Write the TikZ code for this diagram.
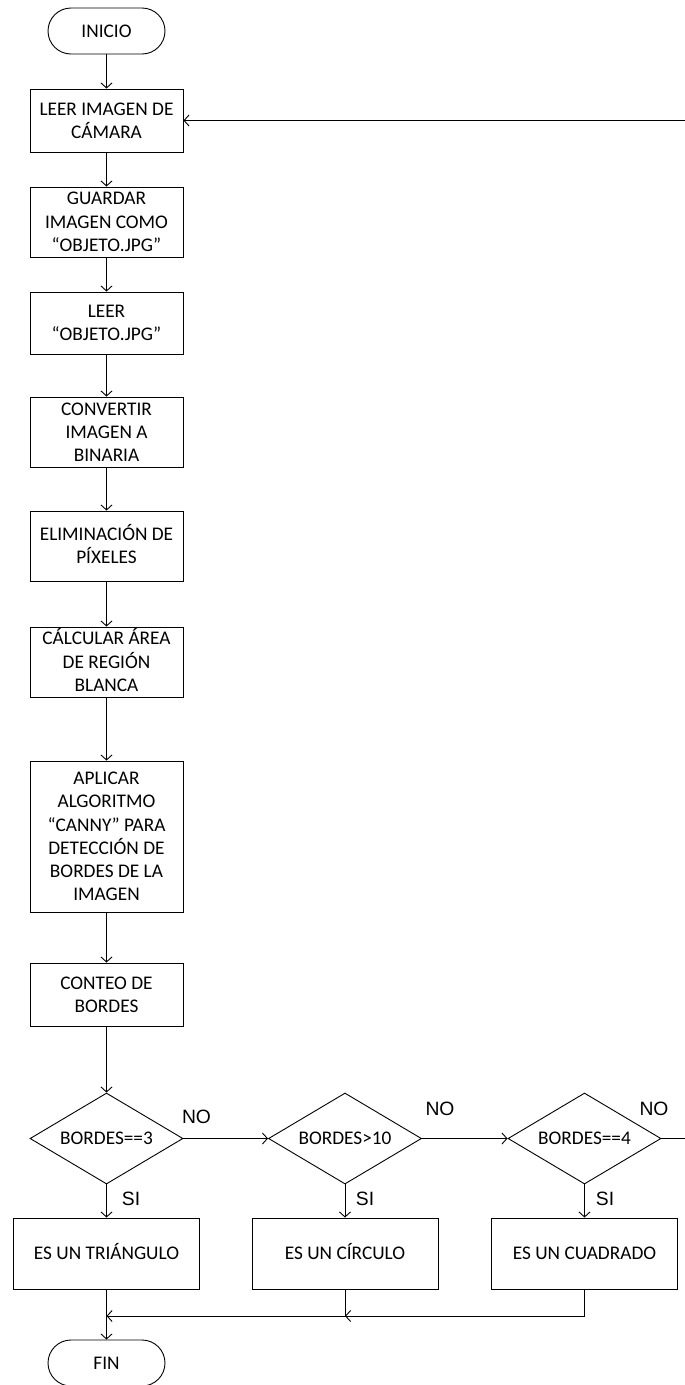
\documentclass[tikz,border=0pt]{standalone}
\usepackage{fontspec}
\setmainfont{Carlito}
\newfontfamily\arialfont{Liberation Sans}
\usetikzlibrary{arrows.meta,shapes.geometric}
\begin{document}
\begin{tikzpicture}[x=1pt,y=-1pt,
  every node/.style={font=\fontsize{19.3}{23.2}\selectfont},
  one/.style={text height=12.4pt},
  two/.style={text height=35.6pt},
  three/.style={text height=58.8pt},
  six/.style={text height=128.4pt},
  box/.style={draw, line width=0.9pt, minimum width=153pt, inner sep=0pt, align=center},
  rbox/.style={draw, line width=0.9pt, minimum width=186pt, minimum height=71pt, inner sep=0pt, align=center, one},
  term/.style={draw, line width=0.9pt, rounded corners=23pt, minimum width=117pt, minimum height=46pt, inner sep=0pt, one},
  decision/.style={draw, line width=0.9pt, diamond, aspect=1.68, minimum width=153pt, minimum height=91pt, inner sep=0pt, one},
  lbl/.style={font=\arialfont\fontsize{19.3}{22}\selectfont, inner sep=0pt},
  arr/.style={-{Straight Barb[length=5pt,width=11pt]}, line width=0.9pt}]
\useasboundingbox (0,0) rectangle (685,1385);

\node[term] (inicio) at (106.5,31) {INICIO};
\node[box, two, minimum height=63pt] (b1) at (106.5,120.5) {LEER IMAGEN DE\\CÁMARA};
\node[box, three, minimum height=70pt] (b2) at (106.5,222) {GUARDAR\\IMAGEN COMO\\“OBJETO.JPG”};
\node[box, two, minimum height=62pt] (b3) at (106.5,323) {LEER\\“OBJETO.JPG”};
\node[box, three, minimum height=70pt] (b4) at (106.5,432) {CONVERTIR\\IMAGEN A\\BINARIA};
\node[box, two, minimum height=70pt] (b5) at (106.5,546) {ELIMINACIÓN DE\\PÍXELES};
\node[box, three, minimum height=70pt] (b6) at (106.5,662) {CÁLCULAR ÁREA\\DE REGIÓN\\BLANCA};
\node[box, six, minimum height=151pt] (b7) at (106.5,836.5) {APLICAR\\ALGORITMO\\“CANNY” PARA\\DETECCIÓN DE\\BORDES DE LA\\IMAGEN};
\node[box, two, minimum height=63pt] (b8) at (106.5,994.5) {CONTEO DE\\BORDES};

\node[decision] (d1) at (106.5,1138.5) {BORDES==3};
\node[decision] (d2) at (345,1138.5) {BORDES>10};
\node[decision] (d3) at (584.5,1138.5) {BORDES==4};

\node[rbox] (r1) at (106.5,1253.5) {ES UN TRIÁNGULO};
\node[rbox] (r2) at (345,1253.5) {ES UN CÍRCULO};
\node[rbox] (r3) at (584.5,1253.5) {ES UN CUADRADO};

\node[term] (fin) at (106.5,1363) {FIN};

\node[lbl] (no1) at (196.5,1117) {NO};
\node[lbl] (no2) at (440,1109) {NO};
\node[lbl] (no3) at (654,1109) {NO};
\node[lbl] (si1) at (131,1199) {SI};
\node[lbl] (si2) at (365,1199) {SI};
\node[lbl] (si3) at (605,1199) {SI};

\draw[arr] (inicio) -- (b1);
\draw[arr] (b1) -- (b2);
\draw[arr] (b2) -- (b3);
\draw[arr] (b3) -- (b4);
\draw[arr] (b4) -- (b5);
\draw[arr] (b5) -- (b6);
\draw[arr] (b6) -- (b7);
\draw[arr] (b7) -- (b8);
\draw[arr] (b8) -- (d1);

\draw[arr] (d1.east) -- (d2.west);
\draw[arr] (d2.east) -- (d3.west);
\coordinate (rb) at (685.5,1138.5);
\coordinate (rt) at (685.5,120.5);
\draw[arr] (d3.east) -- (rb) -- (rt) -- (b1.east);

\draw[arr] (d1.south) -- (r1.north);
\draw[arr] (d2.south) -- (r2.north);
\draw[arr] (d3.south) -- (r3.north);

\coordinate (m1) at (106.5,1316);
\coordinate (m2) at (345,1316);
\draw[arr] (r3.south) |- (m2);
\draw[arr] (r2.south) |- (m1);
\draw[arr] (r1) -- (fin);
\end{tikzpicture}
\end{document}
